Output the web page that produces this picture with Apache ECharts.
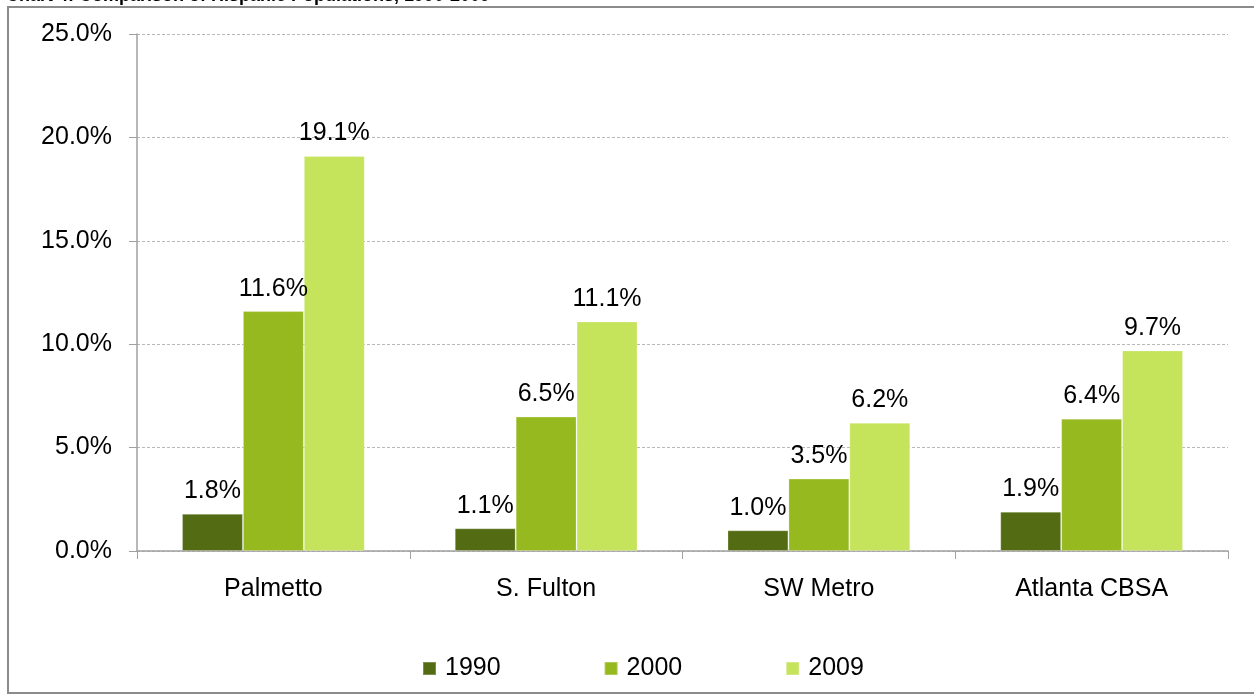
<!DOCTYPE html>
<html>
<head>
<meta charset="utf-8">
<script src="https://cdn.jsdelivr.net/npm/echarts@6/dist/echarts.min.js"></script>
<style>
    html, body { margin: 0; padding: 0; background: #fff; }
    #chart { width: 1254px; height: 696px; }
</style>
</head>
<body>
<div id="chart"></div>
<script type="text/javascript">
    // data
    var categories = ['Palmetto', 'S. Fulton', 'SW Metro', 'Atlanta CBSA'];
    var years = ['1990', '2000', '2009'];
    var v1990 = [1.8, 1.1, 1.0, 1.9];
    var v2000 = [11.6, 6.5, 3.5, 6.4];
    var v2009 = [19.1, 11.1, 6.2, 9.7];
    var colors = ['#536b12', '#96b91f', '#c5e35b'];

    var font = 'Liberation Sans, Arial, sans-serif';

    function mkSeries(name, data, i) {
        return {
            name: name,
            type: 'bar',
            data: data,
            barGap: '0%',
            barCategoryGap: '33%',
            itemStyle: { color: colors[i], borderColor: 'rgba(255,255,255,0.25)', borderWidth: 1 },
            label: {
                show: true,
                position: 'top',
                distance: 10,
                color: '#000',
                fontFamily: font,
                fontSize: 25,
                formatter: function (p) { return p.value.toFixed(1) + '%'; }
            }
        };
    }

    var myChart = echarts.init(document.getElementById('chart'));
    var option = {
        animation: false,
        backgroundColor: '#fff',
        color: colors,
        graphic: [
            {   // outer frame of the chart box
                type: 'rect',
                shape: { x: 8, y: 7, width: 1260, height: 686 },
                style: { fill: 'none', stroke: '#8c8c8c', lineWidth: 2 },
                z: 0
            },
            {   // title, cut off at the top of the picture
                type: 'text',
                left: 6,
                top: -13,
                style: {
                    text: 'Chart 4: Comparison of Hispanic Populations, 1990-2009',
                    font: 'bold 18px ' + font,
                    fill: '#000'
                }
            }
        ],
        grid: {
            left: 137,
            right: 26,
            top: 34,
            bottom: 145
        },
        legend: {
            bottom: 10,
            left: 417,
            itemWidth: 13,
            itemHeight: 13,
            itemGap: 103,
            icon: 'rect',
            textStyle: { fontFamily: font, fontSize: 25, color: '#000', padding: [0, 0, 0, 4] },
            data: years
        },
        xAxis: {
            type: 'category',
            data: categories,
            axisLine: { lineStyle: { color: '#a0a0a0', width: 1.5 } },
            axisTick: { show: true, length: 8, lineStyle: { color: '#a0a0a0' } },
            axisLabel: { fontFamily: font, fontSize: 25, color: '#000', margin: 26 }
        },
        yAxis: {
            type: 'value',
            min: 0,
            max: 25,
            interval: 5,
            axisLine: { show: true, lineStyle: { color: '#a0a0a0', width: 1.5 } },
            axisTick: { show: true, length: 8, inside: false, lineStyle: { color: '#a0a0a0' } },
            axisLabel: {
                fontFamily: font, fontSize: 25, color: '#000', margin: 25,
                formatter: function (v) { return v.toFixed(1) + '%'; }
            },
            splitLine: { lineStyle: { color: '#b8b8b8', type: [3, 2] } }
        },
        series: [
            mkSeries(years[0], v1990, 0),
            mkSeries(years[1], v2000, 1),
            mkSeries(years[2], v2009, 2)
        ]
    };
    myChart.setOption(option);
</script>
</body>
</html>
